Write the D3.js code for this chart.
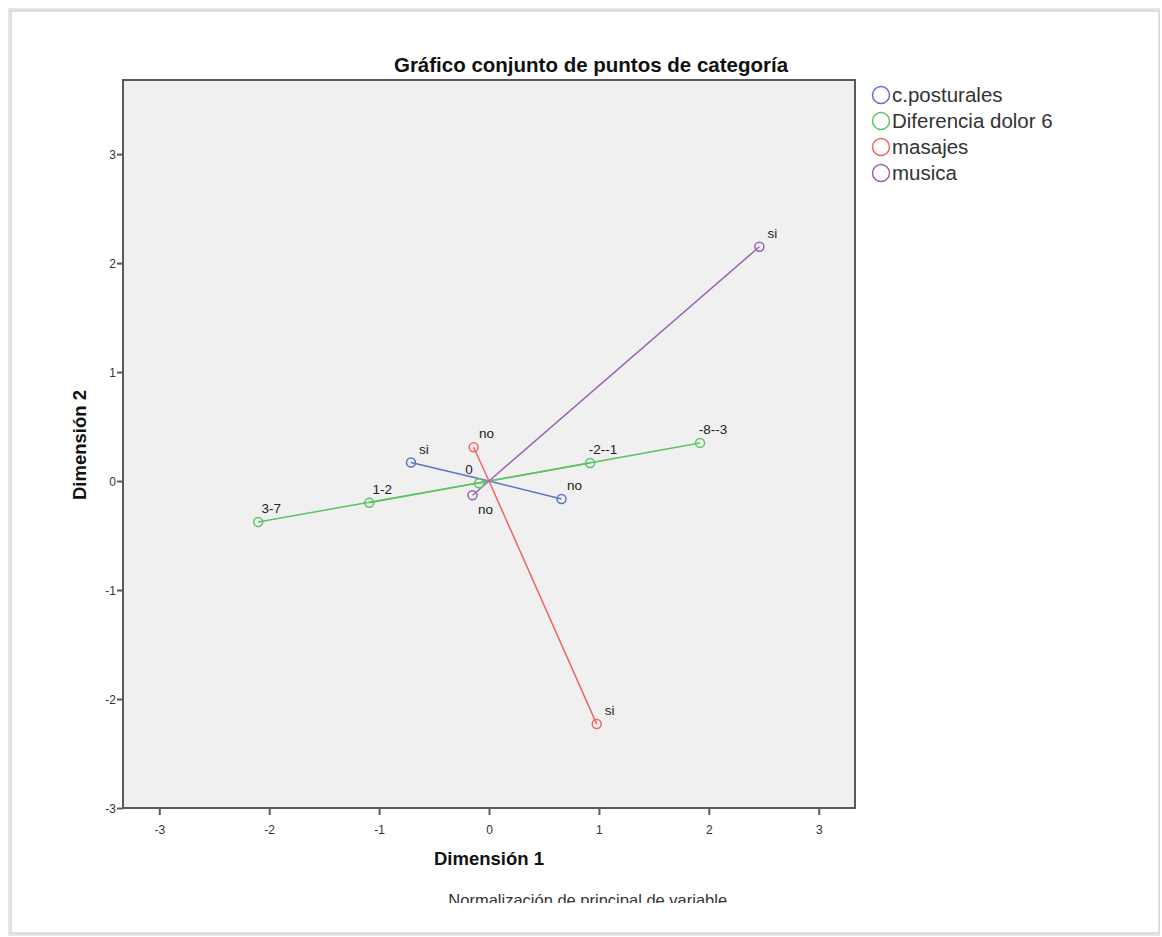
<!DOCTYPE html>
<html>
<head>
<meta charset="utf-8">
<script src="https://cdn.jsdelivr.net/npm/d3@7"></script>
<style>
  body { margin: 0; background: #fff; font-family: "Liberation Sans", Arial, sans-serif; }
</style>
</head>
<body>
<div id="chart"></div>
<script>
// Data (object scores, dimension 1 / dimension 2)
var variables = ["c.posturales", "Diferencia dolor 6", "masajes", "musica"];
var varColors = ["#5f72c9", "#5cc466", "#f26464", "#9b62b1"];

var categories = ["si", "no", "3-7", "1-2", "0", "-2--1", "-8--3", "no", "si", "si", "no"];
var categoryVar = [0, 0, 1, 1, 1, 1, 1, 2, 2, 3, 3];
var dim1 = [-0.71, 0.66, -2.10, -1.09, -0.09, 0.92, 1.92, -0.14, 0.98, 2.46, -0.15];
var dim2 = [0.17, -0.165, -0.375, -0.20, -0.02, 0.165, 0.35, 0.31, -2.23, 2.15, -0.13];

var xTicks = [-3, -2, -1, 0, 1, 2, 3];
var yTicks = [-3, -2, -1, 0, 1, 2, 3];

var svgWidth = 1162;
var svgHeight = 937;

var margin = { top: 80, left: 123 };
var width = 732;
var height = 728;

var svg = d3.select("#chart")
  .append("svg")
  .attr("width", svgWidth)
  .attr("height", svgHeight);

// outer frame with a soft shadow like the screenshot
svg.append("rect")
  .attr("x", 8).attr("y", 8)
  .attr("width", 1152).attr("height", 928)
  .attr("fill", "#e6e6e6");
svg.append("rect")
  .attr("x", 11).attr("y", 11)
  .attr("width", 1148).attr("height", 922)
  .attr("fill", "#fff")
  .attr("stroke", "#c8c8c8")
  .attr("stroke-width", 1);

var xScale = d3.scaleLinear().domain([-3.33, 3.33]).range([0, width]);
var yScale = d3.scaleLinear().domain([-3, 3.68]).range([height, 0]);

var chartGroup = svg.append("g")
  .attr("transform", `translate(${margin.left}, ${margin.top})`);

// plot background
chartGroup.append("rect")
  .attr("width", width)
  .attr("height", height)
  .attr("fill", "#f0f0f0")
  .attr("stroke", "#5a5a5a")
  .attr("stroke-width", 2);

// axes (plain hyphen for negatives, like the original)
var bottomAxis = d3.axisBottom(xScale).tickValues(xTicks).tickSize(7).tickSizeOuter(0).tickFormat(d => String(d));
var leftAxis = d3.axisLeft(yScale).tickValues(yTicks).tickSize(6).tickSizeOuter(0).tickFormat(d => String(d));

var xAxis = chartGroup.append("g")
  .attr("transform", `translate(0, ${height})`)
  .call(bottomAxis);
var yAxis = chartGroup.append("g")
  .call(leftAxis);

[xAxis, yAxis].forEach(function(ax) {
  ax.select(".domain").remove();
  ax.selectAll("line").attr("stroke", "#5a5a5a").attr("stroke-width", 2);
  ax.selectAll("text")
    .attr("fill", "#333")
    .attr("font-size", "12px")
    .attr("font-family", "Liberation Sans, Arial, sans-serif");
});
xAxis.selectAll("text").attr("dy", "1.3em");
yAxis.selectAll("text").attr("x", -7).attr("dy", "0.35em");

// lines from origin to each category point
var points = categories.map(function(c, i) {
  return { cat: c, v: categoryVar[i], x: dim1[i], y: dim2[i] };
});

chartGroup.append("g").selectAll("line")
  .data(points)
  .enter()
  .append("line")
  .attr("x1", xScale(0))
  .attr("y1", yScale(0))
  .attr("x2", d => xScale(d.x))
  .attr("y2", d => yScale(d.y))
  .attr("stroke", d => varColors[d.v])
  .attr("stroke-width", 1.5);

chartGroup.append("g").selectAll("circle")
  .data(points)
  .enter()
  .append("circle")
  .attr("cx", d => xScale(d.x))
  .attr("cy", d => yScale(d.y))
  .attr("r", 4.5)
  .attr("fill", "none")
  .attr("stroke", d => varColors[d.v])
  .attr("stroke-width", 1.5);

// label placement: most labels sit up-right of the point
function labelDx(d) {
  if (d.v === 1 && d.cat === "0") return -10;
  return 13;
}
function labelDy(d) {
  if (d.v === 3 && d.cat === "no") return 19;
  return -9;
}

chartGroup.append("g").selectAll("text")
  .data(points)
  .enter()
  .append("text")
  .attr("x", d => xScale(d.x) + labelDx(d))
  .attr("y", d => yScale(d.y) + labelDy(d))
  .attr("text-anchor", "middle")
  .attr("font-size", "13.5px")
  .attr("fill", "#222")
  .text(d => d.cat);

// title
svg.append("text")
  .attr("x", 591)
  .attr("y", 72)
  .attr("text-anchor", "middle")
  .attr("font-size", "20.5px")
  .attr("font-weight", "bold")
  .attr("fill", "#111")
  .text("Gráfico conjunto de puntos de categoría");

// axis titles
svg.append("text")
  .attr("x", 489)
  .attr("y", 865)
  .attr("text-anchor", "middle")
  .attr("font-size", "18.5px")
  .attr("font-weight", "bold")
  .attr("fill", "#111")
  .text("Dimensión 1");

svg.append("text")
  .attr("transform", "translate(86, 445) rotate(-90)")
  .attr("text-anchor", "middle")
  .attr("font-size", "18.5px")
  .attr("font-weight", "bold")
  .attr("fill", "#111")
  .text("Dimensión 2");

// footnote, cut at the bottom as in the screenshot
svg.append("clipPath").attr("id", "footclip")
  .append("rect").attr("x", 0).attr("y", 880).attr("width", svgWidth).attr("height", 23);

svg.append("text")
  .attr("x", 590)
  .attr("y", 906)
  .attr("text-anchor", "middle")
  .attr("font-size", "16.5px")
  .attr("fill", "#333")
  .attr("clip-path", "url(#footclip)")
  .text("Normalización de principal de variable.");

// legend
var legend = svg.append("g")
  .attr("transform", "translate(881, 95)");

var legendItems = legend.selectAll("g")
  .data(variables)
  .enter()
  .append("g")
  .attr("transform", (d, i) => `translate(0, ${i * 26})`);

legendItems.append("circle")
  .attr("r", 8.5)
  .attr("fill", "none")
  .attr("stroke", (d, i) => varColors[i])
  .attr("stroke-width", 1.5);

legendItems.append("text")
  .attr("x", 11)
  .attr("dy", "0.35em")
  .attr("font-size", "20.5px")
  .attr("fill", "#333")
  .text(d => d);
</script>
</body>
</html>
